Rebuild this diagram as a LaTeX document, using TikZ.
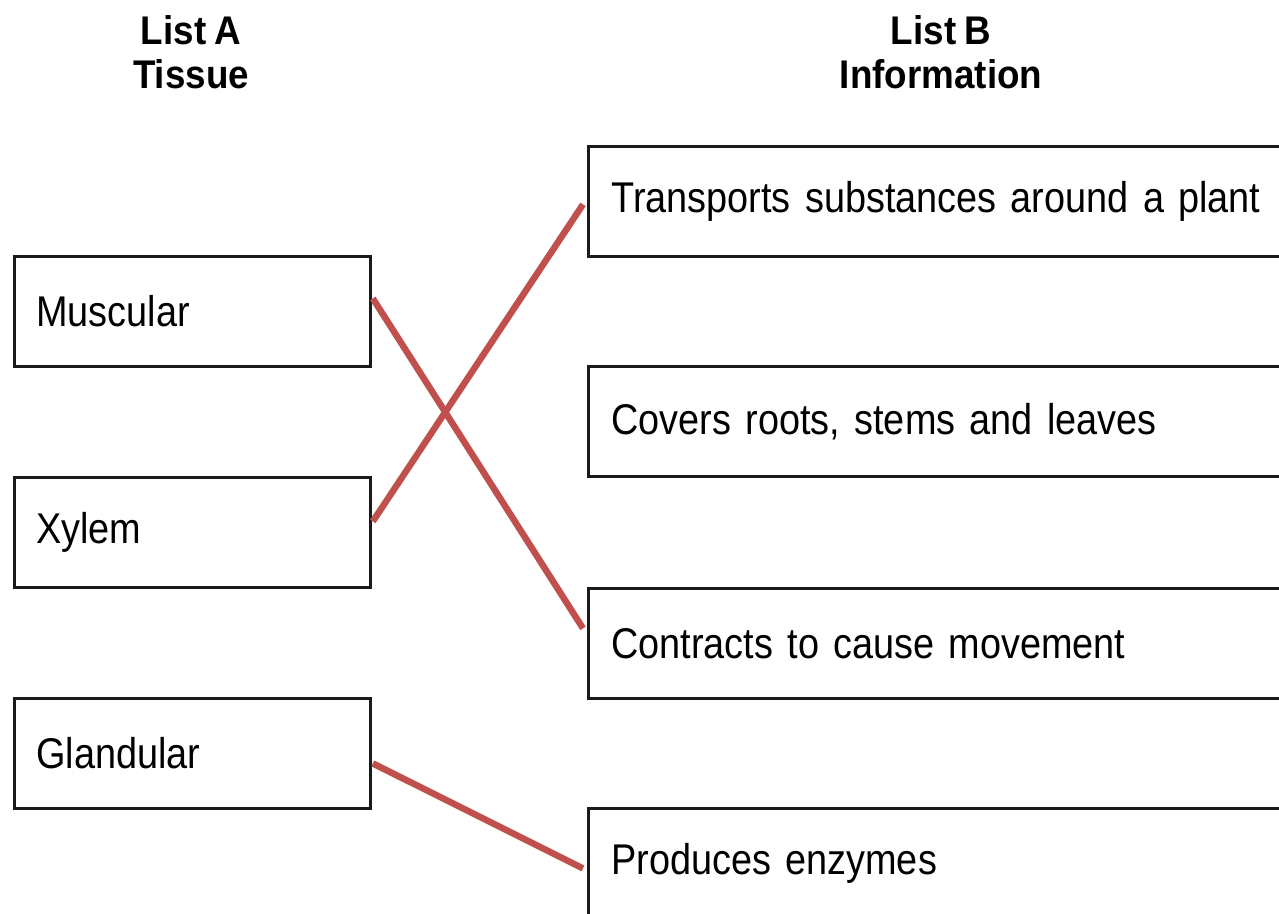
\documentclass[tikz,border=0pt]{standalone}
\usepackage{fontspec}
\newfontfamily\boxfont[FakeStretch=0.88]{Liberation Sans}
\newfontfamily\headfont[FakeStretch=0.92,WordSpace=0.8]{Liberation Sans Bold}
\newcommand\boxtextfont{\boxfont\fontsize{43}{50}\selectfont\spaceskip=0.2em\relax}
\definecolor{linkred}{HTML}{C0504D}
\definecolor{boxline}{HTML}{1A1A1A}
\begin{document}
\begin{tikzpicture}[x=1pt,y=-1pt,
  heading/.style={font=\headfont\fontsize{40}{44}\selectfont, align=center, inner sep=0pt},
  leftbox/.style={draw=boxline, line width=2.8pt, anchor=north west, minimum width=356pt, minimum height=110pt, text width=312pt, align=left, inner xsep=22pt, inner ysep=0pt, font=\boxtextfont},
  rightbox/.style={draw=boxline, line width=2.8pt, anchor=north west, minimum width=710pt, minimum height=110pt, text width=664pt, align=left, inner xsep=23pt, inner ysep=0pt, font=\boxtextfont},
  link/.style={draw=linkred, line width=6.5pt}]
\useasboundingbox (0,0) rectangle (1279,913);
\clip (0,0) rectangle (1279,913);
\fill[white] (0,0) rectangle (1279,913);
\node[heading, anchor=base] (ha) at (191,88) {List A\\Tissue};
\node[heading, anchor=base] (hb) at (941,88) {List B\\Information};
\node[leftbox] (mus) at (13,255) {Muscular};
\node[leftbox] (xyl) at (13,476) {Xylem};
\node[leftbox] (gla) at (13,697) {Glandular};
\node[rightbox] (tra) at (587,145) {Transports substances around a plant};
\node[rightbox] (cov) at (587,365) {Covers roots, stems and leaves};
\node[rightbox] (con) at (587,587) {Contracts to cause movement};
\node[rightbox] (pro) at (587,807) {Produces enzymes};
\draw[link] ([xshift=1pt,yshift=13pt]mus.east) -- ([xshift=-4pt,yshift=15pt]con.west);
\draw[link] ([xshift=1pt,yshift=11pt]xyl.east) -- ([xshift=-4pt,yshift=-3pt]tra.west);
\draw[link] ([xshift=1pt,yshift=-10pt]gla.east) -- ([xshift=-4pt,yshift=-5pt]pro.west);
\end{tikzpicture}
\end{document}
